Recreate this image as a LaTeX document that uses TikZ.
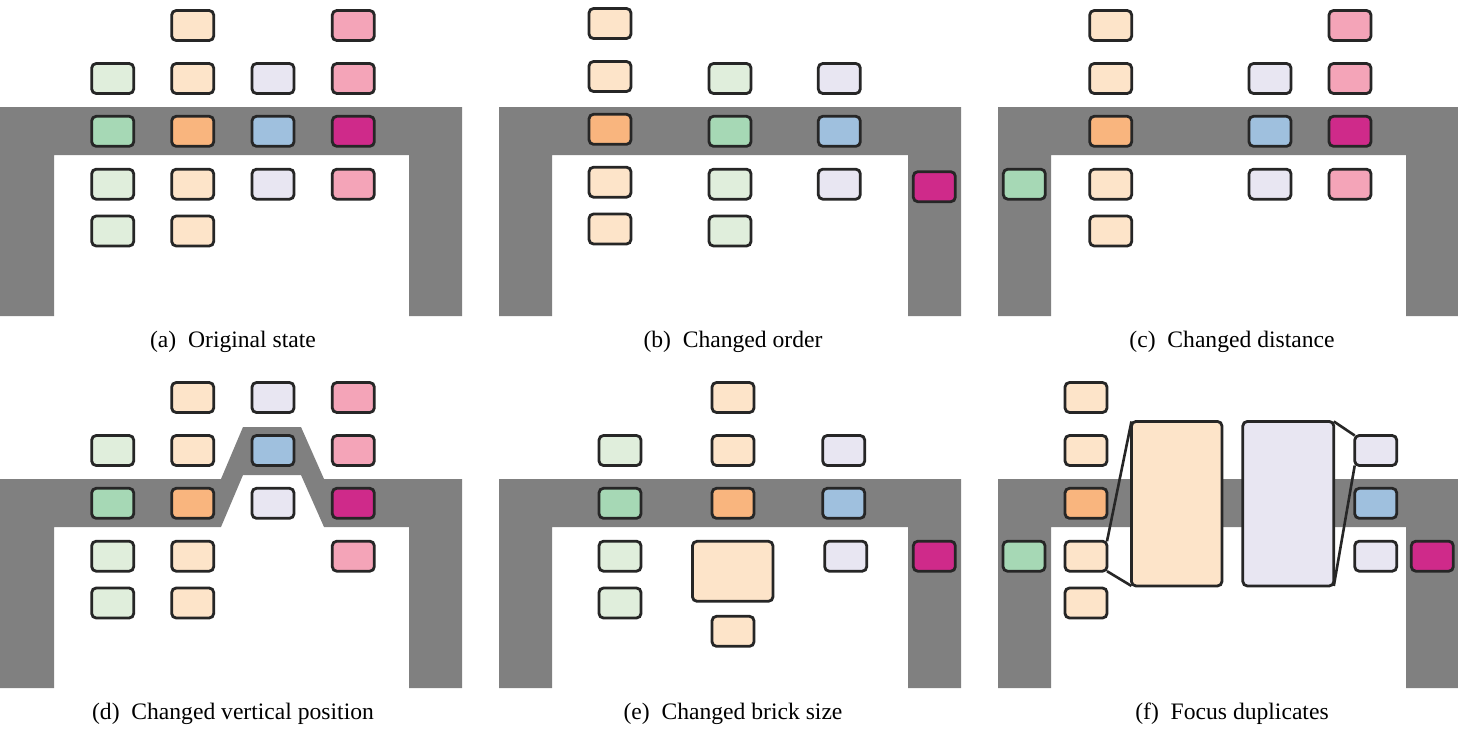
\documentclass[tikz,border=0pt]{standalone}
\usepackage{fontspec}
\setmainfont{Liberation Serif}
\definecolor{wallgray}{HTML}{808080}
\definecolor{bord}{HTML}{262626}
\definecolor{lo}{HTML}{FDE4C9}
\definecolor{do}{HTML}{F9B57E}
\definecolor{lg}{HTML}{E0EEDC}
\definecolor{dg}{HTML}{A6D8B5}
\definecolor{ll}{HTML}{E8E6F2}
\definecolor{db}{HTML}{9FC0DE}
\definecolor{lp}{HTML}{F4A4B8}
\definecolor{dm}{HTML}{CF2A8A}
\begin{document}
\begin{tikzpicture}[x=1pt,y=-1pt,
  brick/.style={draw=bord, line width=2.8pt, rounded corners=4.5pt, minimum width=42pt, minimum height=30pt, inner sep=0pt, outer sep=0pt},
  wall/.style={fill=wallgray, draw=none},
  captext/.style={anchor=base, font=\fontsize{23.6}{28}\selectfont, inner sep=0pt},
  link/.style={draw=bord, line width=2.6pt}]
\useasboundingbox (0,0) rectangle (1458,728);
\fill[white] (0,0) rectangle (1458,728);
\def\Ya{25.5}\def\Yb{78.5}\def\Yc{131.3}\def\Yd{184.2}\def\Ye{231}
% ---------- (a)
\begin{scope}
\fill[wall] (0,107) -- (462,107) -- (462,316) -- (409,316) -- (409,155) -- (54,155) -- (54,316) -- (0,316) -- cycle;
\node[brick,fill=lo] (a02) at (192.7,\Ya) {};
\node[brick,fill=lp] (a04) at (353.3,\Ya) {};
\node[brick,fill=lg] (a11) at (112.7,\Yb) {};
\node[brick,fill=lo] (a12) at (192.7,\Yb) {};
\node[brick,fill=ll] (a13) at (273,\Yb) {};
\node[brick,fill=lp] (a14) at (353.3,\Yb) {};
\node[brick,fill=dg] (a21) at (112.7,\Yc) {};
\node[brick,fill=do] (a22) at (192.7,\Yc) {};
\node[brick,fill=db] (a23) at (273,\Yc) {};
\node[brick,fill=dm] (a24) at (353.3,\Yc) {};
\node[brick,fill=lg] (a31) at (112.7,\Yd) {};
\node[brick,fill=lo] (a32) at (192.7,\Yd) {};
\node[brick,fill=ll] (a33) at (273,\Yd) {};
\node[brick,fill=lp] (a34) at (353.3,\Yd) {};
\node[brick,fill=lg] (a41) at (112.7,\Ye) {};
\node[brick,fill=lo] (a42) at (192.7,\Ye) {};
\node[captext] (capa) at (233,347) {(a)\hspace{0.5em}Original state};
\end{scope}
% ---------- (b)
\begin{scope}[shift={(499,0)}]
\fill[wall] (0,107) -- (462,107) -- (462,316) -- (409,316) -- (409,155) -- (53,155) -- (53,316) -- (0,316) -- cycle;
\node[brick,fill=lo] (b01) at (111,\Ya-2) {};
\node[brick,fill=lo] (b11) at (111,\Yb-2) {};
\node[brick,fill=do] (b21) at (111,\Yc-2) {};
\node[brick,fill=lo] (b31) at (111,\Yd-2) {};
\node[brick,fill=lo] (b41) at (111,\Ye-2) {};
\node[brick,fill=lg] (b12) at (231,\Yb) {};
\node[brick,fill=dg] (b22) at (231,\Yc) {};
\node[brick,fill=lg] (b32) at (231,\Yd) {};
\node[brick,fill=lg] (b42) at (231,\Ye) {};
\node[brick,fill=ll] (b13) at (340.3,\Yb) {};
\node[brick,fill=db] (b23) at (340.3,\Yc) {};
\node[brick,fill=ll] (b33) at (340.3,\Yd) {};
\node[brick,fill=dm] (b34) at (435.3,186.7) {};
\node[captext] (capb) at (234,347) {(b)\hspace{0.5em}Changed order};
\end{scope}
% ---------- (c)
\begin{scope}[shift={(998,0)}]
\fill[wall] (0,107) -- (462,107) -- (462,316) -- (408,316) -- (408,155) -- (53,155) -- (53,316) -- (0,316) -- cycle;
\node[brick,fill=dg] (c30) at (26.3,\Yd) {};
\node[brick,fill=lo] (c01) at (112.7,\Ya) {};
\node[brick,fill=lo] (c11) at (112.7,\Yb) {};
\node[brick,fill=do] (c21) at (112.7,\Yc) {};
\node[brick,fill=lo] (c31) at (112.7,\Yd) {};
\node[brick,fill=lo] (c41) at (112.7,\Ye) {};
\node[brick,fill=ll] (c12) at (272,\Yb) {};
\node[brick,fill=db] (c22) at (272,\Yc) {};
\node[brick,fill=ll] (c32) at (272,\Yd) {};
\node[brick,fill=lp] (c03) at (352,\Ya) {};
\node[brick,fill=lp] (c13) at (352,\Yb) {};
\node[brick,fill=dm] (c23) at (352,\Yc) {};
\node[brick,fill=lp] (c33) at (352,\Yd) {};
\node[captext] (capc) at (234,347) {(c)\hspace{0.5em}Changed distance};
\end{scope}
% ---------- (d)
\begin{scope}[shift={(0,372)}]
\fill[wall] (0,316) -- (0,107) -- (221,107) -- (243,55) -- (301,55) -- (324,107) -- (462,107) -- (462,316) -- (409,316) -- (409,155) -- (324,155) -- (301,103) -- (243,103) -- (221,155) -- (54,155) -- (54,316) -- cycle;
\node[brick,fill=lo] (d02) at (192.7,\Ya) {};
\node[brick,fill=ll] (d03) at (273,\Ya) {};
\node[brick,fill=lp] (d04) at (353.3,\Ya) {};
\node[brick,fill=lg] (d11) at (112.7,\Yb) {};
\node[brick,fill=lo] (d12) at (192.7,\Yb) {};
\node[brick,fill=db] (d13) at (273,\Yb) {};
\node[brick,fill=lp] (d14) at (353.3,\Yb) {};
\node[brick,fill=dg] (d21) at (112.7,\Yc) {};
\node[brick,fill=do] (d22) at (192.7,\Yc) {};
\node[brick,fill=ll] (d23) at (273,\Yc) {};
\node[brick,fill=dm] (d24) at (353.3,\Yc) {};
\node[brick,fill=lg] (d31) at (112.7,\Yd) {};
\node[brick,fill=lo] (d32) at (192.7,\Yd) {};
\node[brick,fill=lp] (d34) at (353.3,\Yd) {};
\node[brick,fill=lg] (d41) at (112.7,\Ye) {};
\node[brick,fill=lo] (d42) at (192.7,\Ye) {};
\node[captext] (capd) at (233,347) {(d)\hspace{0.5em}Changed vertical position};
\end{scope}
% ---------- (e)
\begin{scope}[shift={(499,372)}]
\fill[wall] (0,107) -- (462,107) -- (462,316) -- (409,316) -- (409,155) -- (53,155) -- (53,316) -- (0,316) -- cycle;
\node[brick,fill=lg] (e11) at (121,\Yb) {};
\node[brick,fill=dg] (e21) at (121,\Yc) {};
\node[brick,fill=lg] (e31) at (121,\Yd) {};
\node[brick,fill=lg] (e41) at (121,\Ye) {};
\node[brick,fill=lo] (e02) at (234,\Ya) {};
\node[brick,fill=lo] (e12) at (234,\Yb) {};
\node[brick,fill=do] (e22) at (234,\Yc) {};
\node[brick,fill=lo,minimum width=80.5pt,minimum height=60pt] (e32) at (233.7,199.3) {};
\node[brick,fill=lo] (e52) at (234,259.3) {};
\node[brick,fill=ll] (e13) at (344.7,\Yb) {};
\node[brick,fill=db] (e23) at (344.7,\Yc) {};
\node[brick,fill=ll] (e33) at (346.7,\Yd) {};
\node[brick,fill=dm] (e34) at (435.3,\Yd) {};
\node[captext] (cape) at (234,347) {(e)\hspace{0.5em}Changed brick size};
\end{scope}
% ---------- (f)
\begin{scope}[shift={(998,372)}]
\fill[wall] (0,107) -- (462,107) -- (462,316) -- (408,316) -- (408,155) -- (53,155) -- (53,316) -- (0,316) -- cycle;
\node[brick,fill=dg] (f30) at (26,\Yd) {};
\node[brick,fill=lo] (f01) at (88,\Ya) {};
\node[brick,fill=lo] (f11) at (88,\Yb) {};
\node[brick,fill=do] (f21) at (88,\Yc) {};
\node[brick,fill=lo] (f31) at (88,\Yd) {};
\node[brick,fill=lo] (f41) at (88,\Ye) {};
\node[brick,fill=lo,minimum width=90.5pt,minimum height=164.5pt] (fbo) at (178.7,131.7) {};
\node[brick,fill=ll,minimum width=91pt,minimum height=164.5pt] (fbl) at (290.3,131.7) {};
\node[brick,fill=ll] (f13) at (377.7,\Yb) {};
\node[brick,fill=db] (f23) at (377.7,\Yc) {};
\node[brick,fill=ll] (f33) at (377.7,\Yd) {};
\node[brick,fill=dm] (f34) at (434.3,\Yd) {};
\draw[link] (f31.north east) -- (fbo.north west);
\draw[link] (f31.south east) -- (fbo.south west);
\draw[link] (fbl.north east) -- (f13.north west);
\draw[link] (fbl.south east) -- (f13.south west);
\node[captext] (capf) at (234,347) {(f)\hspace{0.5em}Focus duplicates};
\end{scope}
\end{tikzpicture}
\end{document}
